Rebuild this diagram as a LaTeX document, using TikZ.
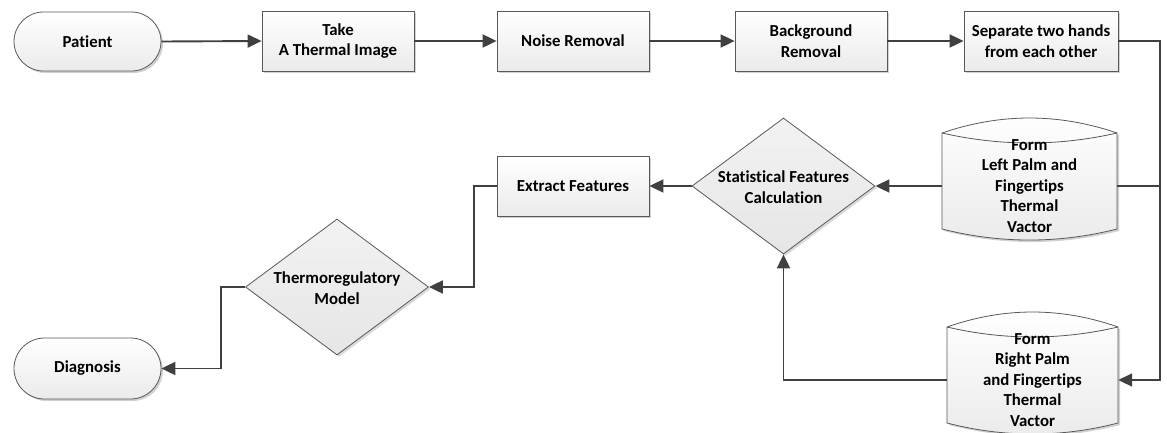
\documentclass[tikz,border=0pt]{standalone}
\usepackage{fontspec}
\setmainfont{Carlito}[Ligatures={NoCommon}]
\usetikzlibrary{shapes.misc,shapes.geometric,arrows.meta,shadows,calc}
\definecolor{edge}{HTML}{404040}
\definecolor{bord}{HTML}{595959}
\begin{document}
\begin{tikzpicture}[x=1pt,y=-1pt,
  font=\fontsize{16.8}{20.4}\selectfont\bfseries,
  shp/.style={draw=bord, line width=0.8pt, top color=white, bottom color=black!8,
    drop shadow={shadow xshift=2pt, shadow yshift=-2pt, opacity=0.18, fill=black}},
  proc/.style={shp, rectangle, minimum width=152pt, minimum height=60pt, inner sep=2pt, align=center},
  term/.style={shp, rounded rectangle, minimum width=151pt, minimum height=59pt, inner sep=2pt, align=center},
  dia/.style={draw=bord, line width=0.8pt, diamond, top color=black!5, bottom color=black!10,
    minimum width=183pt, minimum height=136pt, inner sep=0pt,
    drop shadow={shadow xshift=2pt, shadow yshift=-2pt, opacity=0.15, fill=black}},
  txt/.style={align=center, inner sep=0pt},
  cyltxt/.style={align=center, inner sep=0pt, minimum height=96pt},
  cylfill/.style={draw=bord, line width=0.8pt, top color=white, bottom color=black!8,
    drop shadow={shadow xshift=2pt, shadow yshift=-2pt, opacity=0.18, fill=black}},
  cylline/.style={draw=bord, line width=0.8pt},
  pics/dbs/.style={code={
    \path[cylfill] (-#1,-53) -- (-#1,43) .. controls (-#1/3,57.7) and (#1/3,57.7) .. (#1,43)
      -- (#1,-53) .. controls (#1/3,-73) and (-#1/3,-73) .. (-#1,-53) -- cycle;
    \path[cylline] (-#1,-53) .. controls (-#1/3,-39.7) and (#1/3,-39.7) .. (#1,-53);
  }},
  conn/.style={draw=edge, line width=1.9pt},
  arr/.style={conn, -{Triangle[length=14pt,width=13pt]}}
]
\useasboundingbox (0,0) rectangle (1167,432);

% top row
\node[term] (pat) at (87.5,41.5) {Patient};
\node[proc] (take) at (338,41) {Take\\A Thermal Image};
\node[proc] (noise) at (573,41) {Noise Removal};
\node[proc] (bg) at (811,41) {Background\\Removal};
\node[proc, minimum width=154pt] (sep) at (1041,41) {Separate two hands\\from each other};

% cylinders
\pic at (1029.5,186) {dbs=87.5};
\node[cyltxt, minimum width=175pt] (lcyl) at (1029.5,186) {Form\\Left Palm and\\Fingertips\\Thermal\\Vactor};
\pic at (1032.5,380) {dbs=85.5};
\node[cyltxt, minimum width=171pt] (rcyl) at (1032.5,380) {Form\\Right Palm\\and Fingertips\\Thermal\\Vactor};

% diamonds
\node[dia] (sfc) at (783.5,186) {};
\node[txt] (sfct) at (783.5,187) {Statistical Features\\Calculation};
\node[proc] (ext) at (573,186) {Extract Features};
\node[dia] (thr) at (337,287) {};
\node[txt] (thrt) at (337,288) {Thermoregulatory\\Model};
\node[term, minimum height=61pt] (diag) at (87.5,368.5) {Diagnosis};

\coordinate (tr) at (1160,41);

% connectors
\draw[arr] (pat.east) -- (take.west);
\draw[arr] (take.east) -- (noise.west);
\draw[arr] (noise.east) -- (bg.west);
\draw[arr] (bg.east) -- (sep.west);
\draw[arr] (sep.east) -- (tr) |- (rcyl.east);
\draw[conn] (lcyl.east) -- (lcyl.east -| tr);
\draw[arr] (lcyl.west) -- (sfc.east);
\draw[arr] (rcyl.west) -| (sfc.south);
\draw[arr] (sfc.west) -- (ext.east);
\draw[arr] (ext.west) -- ++(-23,0) |- (thr.east);
\draw[arr] (thr.west) -- ++(-24,0) |- (diag.east);
\end{tikzpicture}
\end{document}
